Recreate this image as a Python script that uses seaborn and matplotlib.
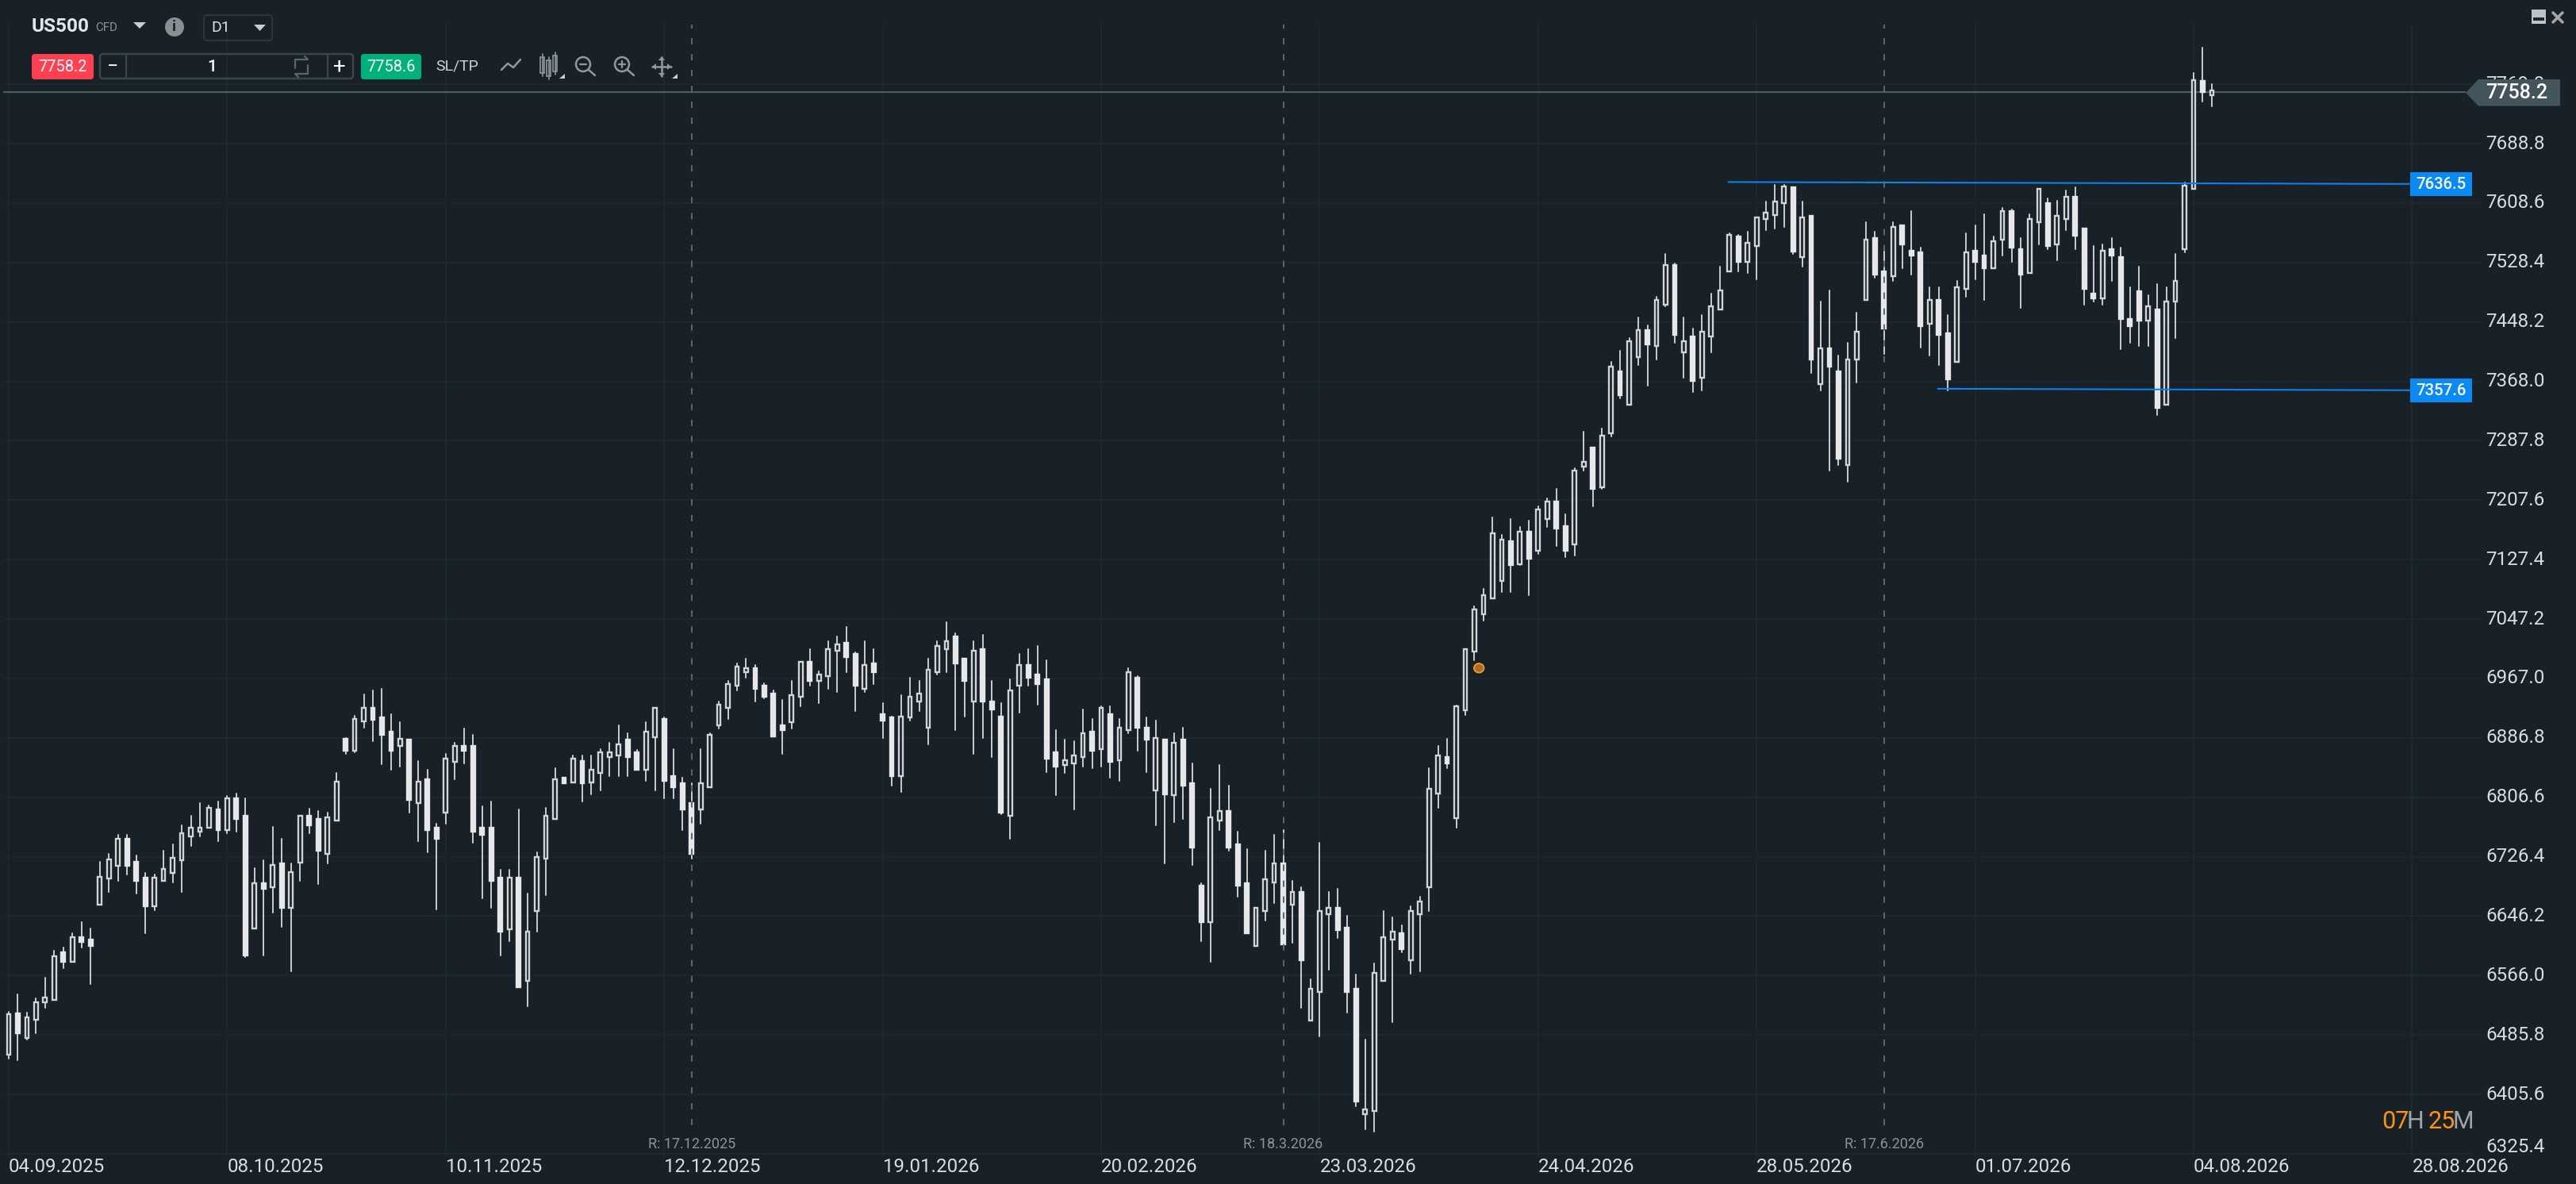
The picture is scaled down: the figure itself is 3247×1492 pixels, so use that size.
import numpy as np
import pandas as pd
import matplotlib
matplotlib.use("Agg")
import matplotlib.pyplot as plt
from matplotlib.patches import Rectangle, FancyBboxPatch, Polygon, Circle, Ellipse
import seaborn as sns

BG = "#172127"
GRID = "#1d282e"

highs = [
6517,6541,6516,6535,6563,6599,6604,6623,6638,6629,
6720,6730,6756,6756,6728,6704,6702,6735,6743,6769,
6782,6799,6796,6801,6808,6812,6805,6711,6722,6767,
6750,6717,6782,6791,6788,6786,6839,6887,6917,6945,
6951,6953,6919,6908,6884,6856,6844,6771,6865,6880,
6899,6891,6794,6801,6709,6709,6790,6677,6732,6792,
6846,6833,6863,6863,6863,6872,6880,6904,6893,6871,
6908,6927,6914,6872,6833,6826,6872,6893,6936,6964,
6987,6994,6985,6961,6951,6938,6964,6989,7007,6977,
7017,7024,7037,7002,7017,7007,6934,6916,6944,6968,
6964,6994,7017,7043,7028,6994,7017,7026,6964,6934,
6966,7000,7007,7011,6991,6897,6884,6882,6925,6912,
6929,6929,6912,6981,6970,6914,6910,6884,6893,6900,
6852,6691,6818,6850,6822,6760,6737,6657,6734,6756,
6762,6694,6685,6561,6745,6679,6683,6647,6567,6480,
6582,6653,6644,6634,6659,6672,6846,6876,6885,6931,
7006,7064,7088,7184,7161,7182,7172,7180,7199,7210,
7223,7189,7251,7300,7279,7304,7394,7409,7426,7454,
7444,7482,7540,7527,7454,7439,7457,7486,7523,7568,
7566,7570,7589,7611,7633,7633,7630,7611,7591,7476,
7491,7403,7420,7461,7583,7570,7544,7583,7579,7598,
7548,7495,7495,7458,7504,7568,7579,7593,7564,7602,
7600,7561,7593,7628,7615,7612,7626,7630,7574,7551,
7553,7561,7548,7495,7523,7484,7499,7495,7540,7636,
7784,7818,7769]

body_tops = [
6514,6515,6509,6530,6536,6592,6597,6618,6618,6614,
6699,6723,6751,6751,6719,6698,6698,6710,6725,6758,
6766,6766,6792,6790,6805,6805,6782,6691,6691,6715,
6717,6706,6782,6782,6777,6779,6828,6885,6912,6927,
6927,6914,6895,6886,6884,6828,6831,6765,6859,6876,
6876,6876,6766,6765,6698,6698,6698,6625,6726,6782,
6831,6833,6859,6856,6844,6867,6867,6878,6884,6867,
6895,6927,6912,6835,6826,6799,6825,6891,6932,6959,
6983,6981,6981,6957,6947,6904,6944,6989,6989,6972,
7007,7013,7015,7000,6985,6987,6919,6914,6916,6942,
6947,6979,7011,7017,7024,6994,7004,7007,6936,6916,
6951,6985,6985,6972,6966,6867,6857,6863,6893,6895,
6927,6919,6901,6976,6968,6901,6887,6884,6880,6884,
6826,6687,6779,6788,6788,6743,6691,6657,6696,6717,
6717,6679,6679,6548,6653,6657,6657,6631,6548,6385,
6569,6618,6625,6623,6653,6666,6818,6863,6861,6929,
7006,7060,7079,7163,7154,7152,7165,7165,7195,7206,
7206,7173,7248,7259,7279,7295,7388,7381,7422,7437,
7437,7478,7525,7525,7422,7429,7435,7469,7491,7566,
7564,7555,7589,7596,7611,7631,7630,7589,7591,7413,
7413,7381,7398,7435,7559,7561,7516,7576,7579,7544,
7542,7478,7478,7433,7495,7542,7544,7538,7557,7598,
7598,7546,7587,7628,7608,7591,7617,7617,7574,7486,
7544,7546,7536,7452,7490,7469,7465,7476,7503,7632,
7775,7773,7761]

body_bottoms = [
6459,6488,6482,6506,6530,6533,6585,6585,6611,6606,
6662,6697,6714,6714,6694,6660,6660,6694,6704,6722,
6754,6760,6765,6762,6762,6777,6593,6630,6683,6685,
6657,6657,6718,6769,6735,6730,6775,6869,6869,6909,
6911,6891,6869,6876,6803,6799,6762,6750,6786,6854,
6869,6760,6756,6694,6625,6628,6550,6559,6653,6724,
6777,6825,6827,6825,6827,6839,6861,6863,6861,6844,
6844,6888,6829,6820,6790,6730,6790,6820,6904,6927,
6957,6975,6953,6942,6889,6897,6908,6942,6964,6964,
6970,7004,6996,6957,6953,6975,6910,6835,6835,6914,
6936,6901,6975,7007,6987,6964,6936,6936,6925,6786,
6782,6957,6968,6959,6859,6848,6850,6852,6861,6869,
6872,6854,6857,6897,6901,6884,6816,6811,6809,6822,
6739,6638,6638,6775,6739,6687,6623,6606,6653,6692,
6608,6662,6587,6505,6544,6649,6627,6544,6396,6379,
6383,6559,6615,6602,6587,6649,6685,6812,6852,6778,
6924,7003,7054,7075,7099,7120,7121,7129,7139,7182,
7169,7139,7148,7253,7223,7225,7298,7349,7336,7401,
7418,7416,7471,7431,7407,7369,7373,7429,7465,7516,
7529,7529,7551,7587,7592,7609,7543,7536,7397,7364,
7388,7264,7255,7397,7478,7512,7439,7510,7553,7538,
7442,7446,7431,7371,7394,7493,7529,7521,7521,7559,
7548,7512,7514,7583,7551,7553,7587,7565,7493,7480,
7480,7538,7452,7442,7450,7450,7332,7336,7476,7546,
7628,7758,7754]

lows = [
6454,6452,6480,6488,6522,6533,6576,6585,6604,6554,
6662,6679,6694,6702,6677,6623,6654,6694,6692,6679,
6741,6754,6765,6747,6758,6760,6591,6630,6593,6651,
6632,6572,6694,6758,6689,6717,6775,6865,6867,6901,
6882,6851,6844,6848,6786,6747,6732,6655,6771,6831,
6852,6745,6670,6657,6593,6612,6550,6525,6625,6675,
6777,6825,6827,6801,6811,6816,6835,6835,6835,6844,
6829,6816,6805,6805,6762,6724,6771,6820,6899,6912,
6951,6968,6936,6940,6889,6865,6899,6929,6957,6934,
6953,6949,6976,6923,6949,6959,6887,6822,6814,6910,
6923,6878,6972,6976,6897,6916,6865,6887,6861,6784,
6751,6921,6957,6932,6841,6809,6839,6790,6848,6846,
6848,6833,6829,6893,6869,6841,6769,6717,6773,6777,
6715,6612,6584,6762,6734,6672,6623,6606,6640,6664,
6604,6610,6522,6505,6484,6574,6617,6516,6390,6359,
6355,6559,6503,6597,6568,6572,6653,6792,6846,6766,
6918,6991,7045,7075,7084,7084,7120,7079,7135,7172,
7146,7131,7133,7247,7199,7223,7294,7345,7336,7390,
7362,7398,7469,7420,7373,7354,7356,7407,7465,7516,
7516,7514,7506,7572,7574,7576,7540,7523,7379,7356,
7247,7255,7232,7366,7478,7508,7405,7504,7521,7512,
7414,7403,7390,7356,7394,7482,7506,7478,7521,7538,
7529,7467,7514,7553,7546,7531,7572,7546,7471,7476,
7471,7504,7411,7420,7416,7416,7323,7336,7426,7542,
7628,7746,7739]

# H = hollow (rising) candle, F = filled (falling) candle
candle_kind = "".join([
"HFHHHHFHFF","HHHFFFHHHH","HHHFHFFHFH","FHHFFHHFHH","FFFHFHFFHH",
"FFFFFHFHHH","HFHFHHHHFF","HHFFFFHHHH","HHFFFFHHFH","HHFFHFFFHH",
"HHHHFFHFFF","HHFFFFHHHF","HFHHFFHFHF","FFHHFFFHHH","FHFHHHFFFH",
"HHHFHHHHFH","HHHHHFHFHH","FFHHFHHFHH","FHHFHFHHHH","FHHHHHFHFH",
"FFHHHFFHFF","FHFFHHFFHH","FFHHFHHFFF","HFFFFHFHHH","HFH"])

date_labels = ["04.09.2025","08.10.2025","10.11.2025","12.12.2025","19.01.2026","20.02.2026",
               "23.03.2026","24.04.2026","28.05.2026","01.07.2026","04.08.2026","28.08.2026"]
price_ticks = [7769.0,7688.8,7608.6,7528.4,7448.2,7368.0,7287.8,7207.6,7127.4,7047.2,
               6967.0,6886.8,6806.6,6726.4,6646.2,6566.0,6485.8,6405.6,6325.4]
rollover_idx = [75,140,206]
rollover_labels = ["R: 17.12.2025","R: 18.3.2026","R: 17.6.2026"]
resistance_x, resistance_y = [188.9,263.7],[7637.0,7634.4]
support_x, support_y = [211.9,263.7],[7358.0,7356.0]
resistance_label, support_label = "7636.5","7357.6"
last_price = 7758.2
bid, ask = "7758.2","7758.6"
event_idx, event_price = 161.5, 6981

sns.set_theme(style="dark", rc={"axes.facecolor":BG,"figure.facecolor":BG,"savefig.facecolor":BG,
                                "patch.edgecolor":"none","patch.force_edgecolor":False})
plt.rcParams["font.family"] = ["Roboto","DejaVu Sans"]

fig = plt.figure(figsize=(16.24,7.46), dpi=200)
ax = fig.add_axes([0,0,1,1])
ax.set_xlim(-0.9586,282.09)
ax.set_ylim(6284.6,7882.7)
ax.axis("off")

n = len(highs)
idx = np.arange(n)
tick_idx = np.arange(len(date_labels))*24

# grid
ax.hlines(price_ticks[:-1],-0.5,271.6,color=GRID,lw=0.75,zorder=1)
ax.hlines(price_ticks[-1],-0.5,270.6,color=GRID,lw=0.75,zorder=1)
ax.vlines(tick_idx,6321,7850,color=GRID,lw=0.75,zorder=1)

# last price line
ax.hlines(last_price,-0.6,269.9,color="#4d5d65",lw=0.75,zorder=2)

# wicks
wicks = pd.DataFrame({"candle":np.r_[idx,idx],"price":np.r_[highs,lows]})
sns.lineplot(data=wicks,x="candle",y="price",units="candle",estimator=None,sort=False,
             color="#c4c8ca",lw=0.72,legend=False,ax=ax,zorder=3)
ax.set_xlabel("");ax.set_ylabel("")

tops = np.array(body_tops,float); bots = np.array(body_bottoms,float)
hollow = np.array([c=="H" for c in candle_kind])
ax.bar(idx[hollow],(tops-bots)[hollow],bottom=bots[hollow],width=0.42,facecolor=BG,
       edgecolor="#d2d5d7",linewidth=0.85,zorder=4)
ax.bar(idx[~hollow],(tops-bots)[~hollow],bottom=bots[~hollow],width=0.42,facecolor="#e6e7e8",
       edgecolor="#e6e7e8",linewidth=0.85,zorder=4)

# rollover dashes
ax.vlines(rollover_idx,6364,7850,color="#5d676c",lw=0.7,linestyle=(0,(4.1,6.2)),zorder=5)
for i,t in zip(rollover_idx,rollover_labels):
    ax.text(i,6338,t,color="#8b9498",fontsize=6.5,ha="center",va="center",zorder=6)

# blue levels
for xs,ys in [(resistance_x,resistance_y),(support_x,support_y)]:
    sns.lineplot(x=xs,y=ys,color="#0a84ea",lw=0.75,ax=ax,legend=False,zorder=6,estimator=None)
ax.set_xlabel("");ax.set_ylabel("")
ax.set_xlim(-0.9586,282.09); ax.set_ylim(6284.6,7882.7)

# event marker
ax.add_patch(Ellipse((event_idx,event_price),1.1,12.5,facecolor="#a66f2c",edgecolor="#ff9a1f",lw=0.6,zorder=6))

# price axis labels
LBL = "#dadddf"
for p in price_ticks[:-1]:
    ax.text(272.06,p,f"{p:.1f}",color=LBL,fontsize=8.7,va="center",ha="left",zorder=6)
ax.text(272.06,price_ticks[-1]+9,f"{price_ticks[-1]:.1f}",color=LBL,fontsize=8.7,va="center",ha="left",zorder=6)
# date labels
for i,t in zip(tick_idx,date_labels):
    ax.text(i,6308,t,color=LBL,fontsize=8.7,va="center",ha="left",zorder=6)

# overlay chrome in pixels
ui = fig.add_axes([0,0,1,1],facecolor="none")
ui.set_xlim(0,3248); ui.set_ylim(1492,0); ui.axis("off")
def txt(x,y,s,c="#ffffff",fs=7,ha="center",w="normal"):
    ui.text(x,y,s,color=c,fontsize=fs,ha=ha,va="center",fontweight=w)
def box(x0,y0,x1,y1,fc,ec="none",lw=0.7,r=4):
    ui.add_patch(FancyBboxPatch((x0+r,y0+r),x1-x0-2*r,y1-y0-2*r,boxstyle=f"round,pad={r},rounding_size={r}",
                 facecolor=fc,edgecolor=ec,linewidth=lw))
def line(xs,ys,c="#8f9a9f",lw=0.9):
    ui.plot(xs,ys,color=c,lw=lw,solid_capstyle="round")

# last-price pill
ui.add_patch(Polygon([[3108,117],[3124,100],[3227,100],[3227,133.5],[3124,133.5]],facecolor="#44545c",edgecolor="none"))
txt(3133,117,f"{last_price:.1f}",fs=9,ha="left",w="medium")
# level tags
ui.add_patch(Rectangle((3037.6,217),78.4,30,facecolor="#0a8af5",edgecolor="none"))
txt(3077,232,resistance_label,fs=7.3,w="medium")
ui.add_patch(Rectangle((3037.6,477),78.4,30,facecolor="#0a8af5",edgecolor="none"))
txt(3077,492,support_label,fs=7.3,w="medium")

# countdown
O="#ff9410"; G="#9ea6aa"
txt(3002,1414,"07",O,11,"left"); txt(3034,1414,"H",G,11,"left")
txt(3061,1414,"25",O,11,"left"); txt(3092,1414,"M",G,11,"left")

# header
txt(40,33,"US500","#e4e6e7",8.8,"left","bold")
txt(120,35,"CFD","#8a9499",5.4,"left")
ui.add_patch(Polygon([[168,28],[184,28],[176,36]],facecolor="#c9cdcf",edgecolor="none"))
ui.add_patch(Circle((220,34),12,facecolor="#8a8f92",edgecolor="none"))
txt(220,34,"i",BG,7,w="bold")
box(257,19,343,51,"none","#2b363d",0.8)
txt(266,35,"D1","#e0e2e3",7,"left")
ui.add_patch(Polygon([[320,31],[335,31],[327.5,39]],facecolor="#c9cdcf",edgecolor="none"))

box(40,68,118,100,"#ff4050")
txt(79,84,bid,fs=7.2)
box(126,68,445,99,"none","#3a454c",0.9)
line([159,159],[68,99],"#3a454c",0.8); line([413,413],[68,99],"#3a454c",0.8)
txt(142,84,"−",fs=9); txt(267.5,84,"1",fs=7.5,w="medium"); txt(428,84,"+",fs=10)
# swap icon
line([372,372,388,384],[86,75,75,71],"#5a666c",0.8)
line([388,388,372,376],[82,93,93,97],"#5a666c",0.8)
box(455,68,531,100,"#00b27a")
txt(493,84,ask,fs=7.2)
txt(549,84,"SL/TP","#cfd3d5",7,"left")
# line icon
line([632,640,647,656],[88,80,85,75])
# candle icon
for x,t,b in [(684,72,92),(692,76,96),(700,70,90)]:
    line([x,x],[t-4,b+4],lw=0.6)
    ui.add_patch(Rectangle((x-2.5,t),5,b-t,facecolor=BG,edgecolor="#8f9a9f",lw=0.6))
ui.add_patch(Polygon([[705,99],[712,99],[712,93]],facecolor="#c9cdcf",edgecolor="none"))
# zoom icons
for cx,plus in [(735,False),(784,True)]:
    ui.add_patch(Circle((cx,81),9,facecolor="none",edgecolor="#8f9a9f",lw=0.9))
    line([cx+7,cx+15],[88,95])
    line([cx-4,cx+4],[81,81],lw=0.8)
    if plus: line([cx,cx],[77,85],lw=0.8)
# move icon
line([822,846],[84,84]); line([834,834],[72,96])
for p in [[[822,84],[827,80],[827,88]],[[846,84],[841,80],[841,88]],[[834,71],[830,76],[838,76]],[[834,97],[830,92],[838,92]]]:
    ui.add_patch(Polygon(p,facecolor="#8f9a9f",edgecolor="none"))
ui.add_patch(Polygon([[847,99],[854,99],[854,93]],facecolor="#c9cdcf",edgecolor="none"))

# window buttons
ui.add_patch(Rectangle((3191,12),18,18,facecolor="#bcc4c8",edgecolor="none"))
ui.add_patch(Rectangle((3193,22),14,4,facecolor="#1f2a30",edgecolor="none"))
line([3218,3230],[16,28],"#a5a5a5",1.3); line([3218,3230],[28,16],"#a5a5a5",1.3)

fig.savefig("out.png",dpi=200,facecolor=BG)
